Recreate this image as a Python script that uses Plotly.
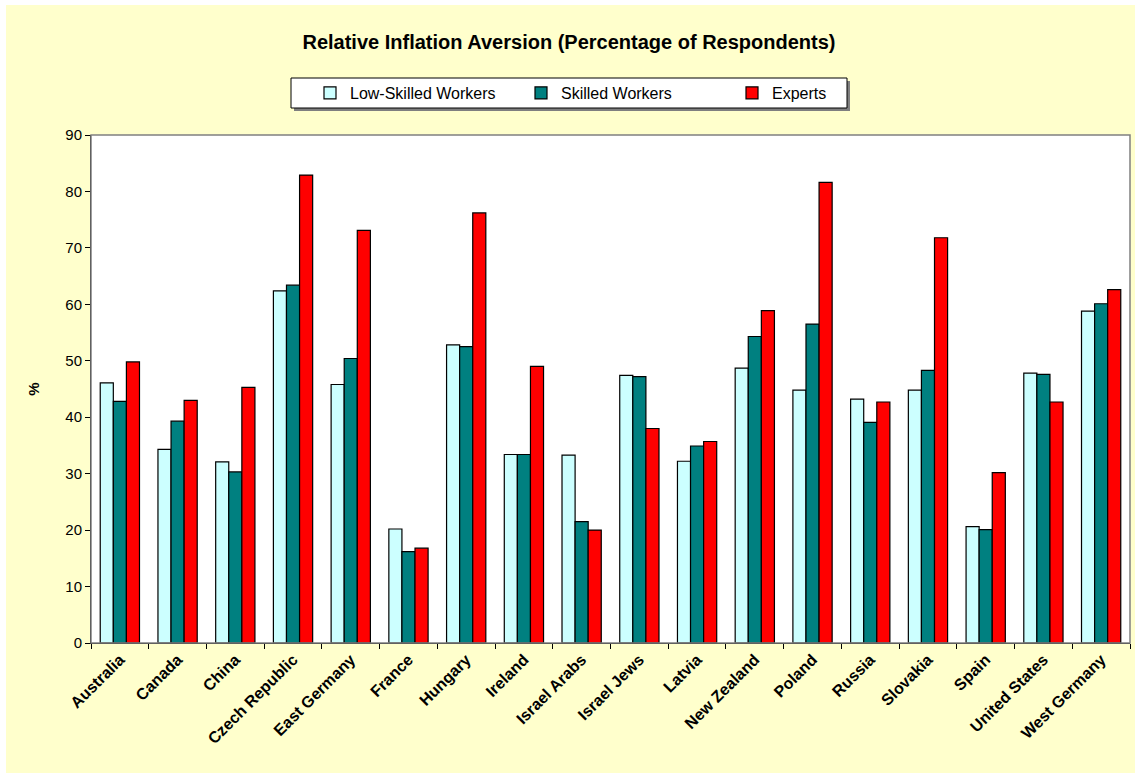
import plotly.graph_objects as go

countries = ["Australia", "Canada", "China", "Czech Republic", "East Germany", "France",
             "Hungary", "Ireland", "Israel Arabs", "Israel Jews", "Latvia", "New Zealand",
             "Poland", "Russia", "Slovakia", "Spain", "United States", "West Germany"]
low_skilled = [46.1, 34.3, 32.1, 62.4, 45.8, 20.2, 52.8, 33.4, 33.3, 47.4, 32.2, 48.7,
               44.8, 43.2, 44.8, 20.6, 47.8, 58.8]
skilled = [42.8, 39.3, 30.3, 63.4, 50.4, 16.2, 52.5, 33.4, 21.5, 47.2, 34.9, 54.3,
           56.5, 39.1, 48.3, 20.1, 47.6, 60.1]
experts = [49.8, 43.0, 45.3, 82.9, 73.1, 16.8, 76.2, 49.0, 20.0, 38.0, 35.7, 58.9,
           81.6, 42.7, 71.8, 30.2, 42.7, 62.6]
y_ticks = [0, 10, 20, 30, 40, 50, 60, 70, 80, 90]

FONT = "Liberation Sans, Arial, sans-serif"
W, H = 1129, 768
ML, MR, MT, MB = 85, 5, 130, 130
PW, PH = W - ML - MR, H - MT - MB


def px_x(fx):
    return (fx - ML) / PW


def px_y(fy):
    return (H - MB - fy) / PH


fig = go.Figure()
for name, vals, col in [("Low-Skilled Workers", low_skilled, "#CCFFFF"),
                        ("Skilled Workers", skilled, "#008080"),
                        ("Experts", experts, "#FF0000")]:
    fig.add_trace(go.Bar(x=countries, y=vals, name=name,
                         marker=dict(color=col, line=dict(color="black", width=1.2))))

fig.update_layout(
    width=W, height=H,
    paper_bgcolor="#FFFFCC", plot_bgcolor="white",
    barmode="group", bargap=0.32, bargroupgap=0,
    margin=dict(l=ML, r=MR, t=MT, b=MB),
    font=dict(family=FONT, size=15, color="black"),
    title=dict(text="<b>Relative Inflation Aversion (Percentage of Respondents)</b>",
               x=563 / W, xref="container", xanchor="center", y=1 - 37 / H, yref="container",
               yanchor="middle", font=dict(size=20, family=FONT)),
    legend=dict(orientation="h", xref="container", yref="container",
                x=304 / W, xanchor="left", y=1 - 88 / H, yanchor="middle",
                bgcolor="rgba(0,0,0,0)", borderwidth=0,
                font=dict(size=16, family=FONT), entrywidth=166,
                itemwidth=30, traceorder="normal"),
    showlegend=True,
)
fig.update_yaxes(range=[0, 90], tickvals=y_ticks, ticks="outside", ticklen=5,
                 tickcolor="black", showline=True, linecolor="black", linewidth=1,
                 showgrid=False, zeroline=False, tickfont=dict(size=15),
                 title=dict(text="<b>%</b>", font=dict(size=15), standoff=22))
fig.update_xaxes(ticks="outside", tickson="boundaries", ticklen=5, tickcolor="black",
                 showline=True, linecolor="black", linewidth=1, tickangle=-45,
                 tickfont=dict(size=16, family=FONT, weight="bold"), showgrid=False)
# plot-area frame
fig.add_shape(type="rect", xref="paper", yref="paper", x0=0, x1=1, y0=0, y1=1,
              line=dict(color="#808080", width=1.5), layer="above")
# legend box with shadow
bx0, bx1, by0, by1 = 285, 841, 73, 103
fig.add_shape(type="rect", xref="paper", yref="paper",
              x0=px_x(bx0 + 3), x1=px_x(bx1 + 3), y0=px_y(by1 + 3), y1=px_y(by0 + 3),
              line=dict(width=0), fillcolor="#7f7f7f", layer="below")
fig.add_shape(type="rect", xref="paper", yref="paper",
              x0=px_x(bx0), x1=px_x(bx1), y0=px_y(by1), y1=px_y(by0),
              line=dict(color="black", width=1), fillcolor="white", layer="below")
fig.write_html("out.html",
               post_script="document.body.style.margin='5px 0 0 6px';"
                           "document.body.style.overflow='hidden';")
